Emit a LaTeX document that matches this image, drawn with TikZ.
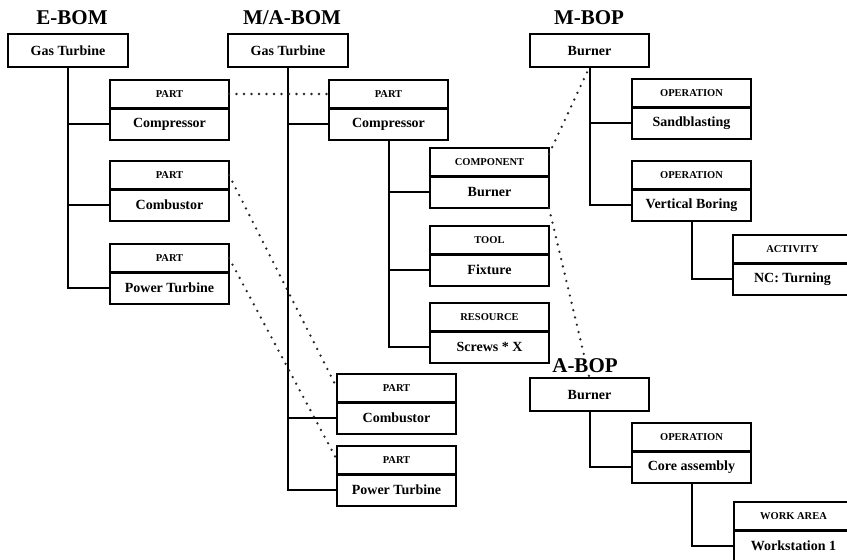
\documentclass[tikz,border=0pt]{standalone}
\usepackage{fontspec}
\setmainfont{Liberation Serif}
\begin{document}
\begin{tikzpicture}[x=1pt,y=-1pt,
  title/.style={font=\bfseries\fontsize{21}{24}\selectfont, inner sep=1pt, fill=white},
  topbox/.style={draw, line width=1.8pt, minimum width=120pt, minimum height=33pt, inner sep=0pt, outer sep=0pt, font=\bfseries\fontsize{14}{16}\selectfont},
  hdr/.style={draw, line width=1.8pt, minimum width=119pt, minimum height=28pt, inner sep=0pt, outer sep=0pt, font=\bfseries\fontsize{10.5}{12}\selectfont},
  bod/.style={draw, line width=1.8pt, minimum width=119pt, minimum height=32pt, inner sep=0pt, outer sep=0pt, font=\bfseries\fontsize{14}{16}\selectfont},
  divider/.style={line width=3pt},
  conn/.style={line width=2pt},
  dots/.style={line width=2.6pt, dash pattern=on 0pt off 7.5pt, line cap=round, black!85}]
\useasboundingbox (0,0) rectangle (847,560);
\newcommand\pbox[5]{%
  \node[hdr, anchor=north west] (#1h) at (#2,#3) {#4};
  \node[bod, anchor=north west] (#1) at (#1h.south west) {#5};
  \draw[divider] (#1h.south west) -- (#1h.south east);}

% E-BOM
\node[topbox, anchor=north west] (eg) at (8,34) {Gas Turbine};
\pbox{e1}{110}{80}{PART}{Compressor}
\pbox{e2}{110}{161}{PART}{Combustor}
\pbox{e3}{110}{244}{PART}{Power Turbine}
\draw[conn] (eg.south) |- (e3.west);
\draw[conn] (eg.south |- e1.west) -- (e1.west);
\draw[conn] (eg.south |- e2.west) -- (e2.west);

% M/A-BOM
\node[topbox, anchor=north west] (mg) at (228,34) {Gas Turbine};
\pbox{m1}{329}{80}{PART}{Compressor}
\pbox{m2}{430}{148}{COMPONENT}{Burner}
\pbox{m3}{430}{226}{TOOL}{Fixture}
\pbox{m4}{430}{303}{RESOURCE}{Screws * X}
\pbox{m5}{337}{374}{PART}{Combustor}
\pbox{m6}{337}{446}{PART}{Power Turbine}
\draw[conn] (mg.south) |- (m6.west);
\draw[conn] (mg.south |- m1.west) -- (m1.west);
\draw[conn] (mg.south |- m5.west) -- (m5.west);
\draw[conn] (m1.south) |- (m4.west);
\draw[conn] (m1.south |- m2.west) -- (m2.west);
\draw[conn] (m1.south |- m3.west) -- (m3.west);

% M-BOP
\node[topbox, anchor=north west, minimum width=119pt] (bg) at (530,34) {Burner};
\pbox{b1}{632}{79}{OPERATION}{Sandblasting}
\pbox{b2}{632}{161}{OPERATION}{Vertical Boring}
\pbox{b3}{733}{235}{ACTIVITY}{NC: Turning}
\draw[conn] (bg.south) |- (b2.west);
\draw[conn] (bg.south |- b1.west) -- (b1.west);
\draw[conn] (b2.south) |- (b3.west);

% A-BOP
\node[topbox, anchor=north west, minimum width=119pt] (ag) at (530,378) {Burner};
\pbox{a1}{632}{423}{OPERATION}{Core assembly}
\pbox{a2}{734}{502}{WORK AREA}{Workstation 1}
\draw[conn] (ag.south) |- (a1.west);
\draw[conn] (a1.south) |- (a2.west);

% dotted links
\draw[dots] (e1h.east) -- (m1h.west);
\draw[dots] (e2h.east) -- (m5h.west);
\draw[dots] (e3h.east) -- (m6h.west);
\draw[dots] ([yshift=-6pt]m2h.north east) -- (bg.south);
\draw[dots] (m2.south east) -- (ag.north);

% titles
\node[title] (t1) at (72,18) {E-BOM};
\node[title] (t2) at (292,18) {M/A-BOM};
\node[title] (t3) at (589,18) {M-BOP};
\node[title] (t4) at (585,366) {A-BOP};
\end{tikzpicture}
\end{document}
